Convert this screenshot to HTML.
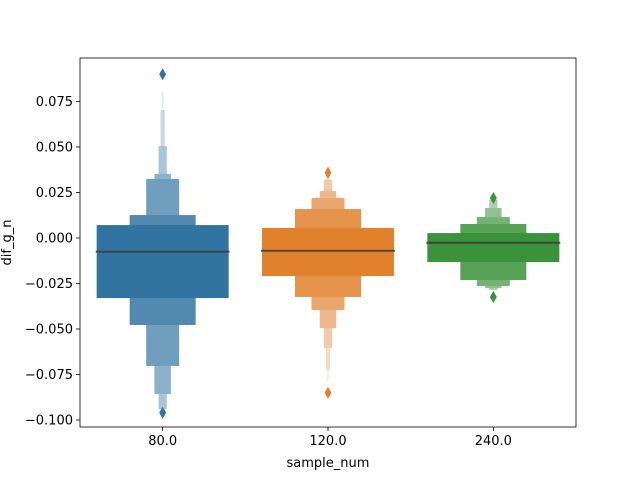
<!DOCTYPE html>
<html><head><meta charset="utf-8"><style>
body{margin:0;background:#fff}
svg{display:block;font-family:"DejaVu Sans","Liberation Sans",sans-serif}
</style></head><body>
<svg id="chart" width="640" height="480" xmlns="http://www.w3.org/2000/svg">
<rect x="0" y="0" width="640" height="480" fill="#fff"/>
<g id="plot"></g>
<g id="axes"></g>
</svg>
<script>
const categories = ["80.0","120.0","240.0"];
const colors = ["#3274a1","#e1812c","#3a923a"];
const medians = [-0.0075,-0.007,-0.0026];
const upperLevels = [
  [0.0071,0.0126,0.0324,0.0352,0.0505,0.0703,0.0802],
  [0.0055,0.0159,0.0220,0.0258,0.0319,0.0340,0.0345],
  [0.0027,0.0077,0.0115,0.0165,0.0209]
];
const lowerLevels = [
  [-0.0330,-0.0478,-0.0703,-0.0857,-0.0940,-0.0945,-0.0948],
  [-0.0209,-0.0324,-0.0396,-0.0495,-0.0604,-0.0725,-0.0786],
  [-0.0132,-0.0231,-0.0264,-0.0275,-0.0286]
];
const outliers = [[0.090,-0.096],[0.0359,-0.085],[0.022,-0.0324]];
const yTicks = [0.075,0.05,0.025,0,-0.025,-0.05,-0.075,-0.1];
const yTickLabels = ["0.075","0.050","0.025","0.000","\u22120.025","\u22120.050","\u22120.075","\u22120.100"];

const L=80,R=576,T=58,B=427;
const y0=238, k=1820;
function yScale(v){return y0 - v*k;}
function xScale(i){return L + (R-L)/categories.length*(i+0.5);}
const NS="http://www.w3.org/2000/svg";
function mk(tag,attrs,parent){const e=document.createElementNS(NS,tag);for(const a in attrs)e.setAttribute(a,attrs[a]);parent.appendChild(e);return e;}
function blend(hex,a){const n=parseInt(hex.slice(1),16);const c=[n>>16,(n>>8)&255,n&255].map(v=>Math.round(v*a+255*(1-a)));return `rgb(${c[0]},${c[1]},${c[2]})`;}
const plot=document.getElementById('plot'), axes=document.getElementById('axes');
const opac=[1,0.85,0.7,0.56,0.42,0.28,0.14];
categories.forEach((c,i)=>{
  const cx=xScale(i);
  const g=mk('g',{},plot);
  
  
  for(let j=upperLevels[i].length-1;j>=0;j--){
    const hw=66/Math.pow(2,j);
    const top=yScale(upperLevels[i][j]), bot=yScale(lowerLevels[i][j]);
    const r=mk('rect',{x:cx-hw,y:top,width:2*hw,height:bot-top,fill:blend(colors[i],opac[j])},g);
    
    
  }
  const m=mk('line',{x1:cx-67,x2:cx+67,y1:yScale(medians[i]),y2:yScale(medians[i]),stroke:'#3b3b3b','stroke-width':2,'stroke-opacity':0.85},g);
  
  
  outliers[i].forEach(v=>{
    const yy=yScale(v);
    const d=mk('path',{d:`M${cx},${yy-6}L${cx+3.5},${yy}L${cx},${yy+6}L${cx-3.5},${yy}Z`,fill:colors[i]},g);
    
    
  });
  const t=mk('line',{x1:cx,x2:cx,y1:B,y2:B+4,stroke:'#000','stroke-width':0.8},axes);
  
  
  const tl=mk('text',{x:cx,y:B+18,'text-anchor':'middle','font-size':13},axes);
  tl.textContent=c;
  
  
});
yTicks.forEach((v,i)=>{
  const yy=yScale(v);
  const t=mk('line',{x1:L-4,x2:L,y1:yy,y2:yy,stroke:'#000','stroke-width':0.8},axes);
  
  
  const tl=mk('text',{x:L-7,y:yy+4.5,'text-anchor':'end','font-size':13},axes);
  tl.textContent=yTickLabels[i];
  
  
});
const fr=mk('rect',{x:L,y:T,width:R-L,height:B-T,fill:'none',stroke:'#000','stroke-width':0.8},axes);


const xt=mk('text',{x:(L+R)/2,y:467,'text-anchor':'middle','font-size':13},axes);
xt.textContent='sample_num';


const yt=mk('text',{x:0,y:0,'text-anchor':'middle','font-size':13,transform:`translate(11,${(T+B)/2}) rotate(-90)`},axes);
yt.textContent='dif_g_n';


</script>
</body></html>
